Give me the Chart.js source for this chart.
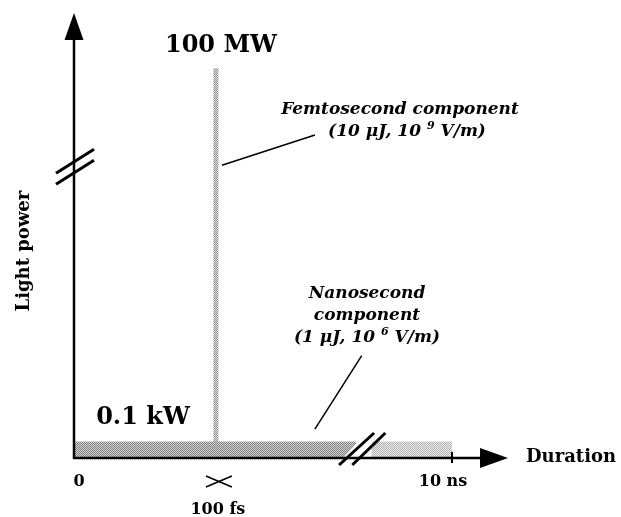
<!DOCTYPE html>
<html>
<head>
<meta charset="utf-8">
<script src="https://cdn.jsdelivr.net/npm/chart.js@4.4.1/dist/chart.umd.min.js"></script>
<style>
    html, body { margin: 0; padding: 0; background: #ffffff; }
    #wrap { width: 621px; height: 517px; position: relative; }
</style>
</head>
<body>
<div id="wrap"><canvas id="pulseChart"></canvas></div>
<script>
// 脈衝示意圖：橫軸為持續時間 (示意位置)，縱軸為光功率 (示意高度)

// 橫軸刻度 (示意位置，0 為原點，10 為箭頭尖端)
const durationTicks = ['0', '100 fs', '10 ns'];
const durationPos = [0, 3.27, 8.71];
const durationMax = 10;

// 縱軸 (示意高度，100 為箭頭尖端)
const powerLabels = ['0.1 kW', '100 MW'];
const powerLevels = [3.7, 87.6];
const powerMax = 100;

// 奈秒成分被截斷的區段 (示意位置)
const nanoBreak = [6.5, 6.85];

// 各成分說明文字
const femtoLabel = ['Femtosecond component', '(10 \u03bcJ, 10 ', '9', ' V/m)'];
const nanoLabel = ['Nanosecond', 'component', '(1 \u03bcJ, 10 ', '6', ' V/m)'];

/**
 * Builds a small checkerboard pattern to imitate the stippled grey fill.
 */
function makeStipple(dark, light) {
    const c = document.createElement('canvas');
    c.width = 2;
    c.height = 2;
    const g = c.getContext('2d');
    g.fillStyle = light;
    g.fillRect(0, 0, 2, 2);
    g.fillStyle = dark;
    g.fillRect(0, 0, 1, 1);
    g.fillRect(1, 1, 1, 1);
    return g.createPattern(c, 'repeat');
}

const darkStipple = makeStipple('#808080', '#d4d4d4');
const lightStipple = makeStipple('#b0b0b0', '#eeeeee');
const femtoStipple = makeStipple('#969696', '#dcdcdc');

const serif = '"DejaVu Serif", "Liberation Serif", serif';

/**
 * Draws a line of text with one superscript part, centred on cx.
 */
function drawSupLine(ctx, before, sup, after, cx, y, size) {
    const mainFont = 'italic bold ' + size + 'px ' + serif;
    const supFont = 'italic bold ' + Math.round(size * 0.62) + 'px ' + serif;
    ctx.font = mainFont;
    const w1 = ctx.measureText(before).width;
    const w3 = ctx.measureText(after).width;
    ctx.font = supFont;
    const w2 = ctx.measureText(sup).width;
    let x = cx - (w1 + w2 + w3) / 2;
    ctx.save();
    ctx.textAlign = 'left';
    ctx.font = mainFont;
    ctx.fillText(before, x, y);
    x += w1;
    ctx.font = supFont;
    ctx.fillText(sup, x, y - size * 0.42);
    x += w2;
    ctx.font = mainFont;
    ctx.fillText(after, x, y);
    ctx.restore();
}

function line(ctx, x1, y1, x2, y2, w) {
    ctx.lineWidth = w;
    ctx.beginPath();
    ctx.moveTo(x1, y1);
    ctx.lineTo(x2, y2);
    ctx.stroke();
}

// 軸線、箭頭、截斷符號與文字
const schematicPlugin = {
    id: 'schematic',
    afterDatasetsDraw(chart) {
        const ctx = chart.ctx;
        const xs = chart.scales.x;
        const ys = chart.scales.y;
        const x0 = xs.getPixelForValue(0);
        const y0 = ys.getPixelForValue(0);
        const xTip = xs.getPixelForValue(durationMax);
        const yTip = ys.getPixelForValue(powerMax);
        const nanoTop = ys.getPixelForValue(powerLevels[0]);
        const femtoX = xs.getPixelForValue(durationPos[1]);
        const nsX = xs.getPixelForValue(durationPos[2]);
        const b1 = xs.getPixelForValue(nanoBreak[0]);
        const b2 = xs.getPixelForValue(nanoBreak[1]);

        ctx.save();
        ctx.strokeStyle = '#000';
        ctx.fillStyle = '#000';
        ctx.lineCap = 'butt';

        // 截斷處留白
        ctx.fillStyle = '#fff';
        ctx.beginPath();
        ctx.moveTo(b1 - 12, y0 - 1);
        ctx.lineTo(b1 + 2, nanoTop);
        ctx.lineTo(b2 + 2, nanoTop);
        ctx.lineTo(b2 - 12, y0 - 1);
        ctx.closePath();
        ctx.fill();
        ctx.fillStyle = '#000';

        // 縱軸與箭頭
        line(ctx, x0, y0 + 1, x0, yTip + 26, 2.5);
        ctx.beginPath();
        ctx.moveTo(x0, yTip);
        ctx.lineTo(x0 - 9.5, yTip + 27);
        ctx.lineTo(x0 + 9.5, yTip + 27);
        ctx.closePath();
        ctx.fill();

        // 橫軸與箭頭
        line(ctx, x0 - 1, y0, xTip - 27, y0, 2.5);
        ctx.beginPath();
        ctx.moveTo(xTip, y0);
        ctx.lineTo(xTip - 28, y0 - 10);
        ctx.lineTo(xTip - 28, y0 + 10);
        ctx.closePath();
        ctx.fill();

        // 10 ns 刻度
        line(ctx, nsX, y0 - 6, nsX, y0 + 5, 2);

        // 100 fs 的叉號
        line(ctx, femtoX - 10, y0 + 18, femtoX + 16, y0 + 29, 1.5);
        line(ctx, femtoX - 10, y0 + 29, femtoX + 16, y0 + 18, 1.5);

        // 橫軸截斷符號
        line(ctx, b1 - 17, y0 + 7, b1 + 18, y0 - 25, 3);
        line(ctx, b2 - 19, y0 + 7, b2 + 14, y0 - 25, 3);

        // 縱軸截斷符號
        const yb = ys.getPixelForValue(66);
        line(ctx, x0 - 18, yb + 9, x0 + 20, yb - 15, 3);
        line(ctx, x0 - 18, yb + 20, x0 + 20, yb - 4, 3);

        // 引線
        line(ctx, femtoX + 6, ys.getPixelForValue(65.8), femtoX + 99, ys.getPixelForValue(72.6), 1.5);
        line(ctx, xs.getPixelForValue(5.55), ys.getPixelForValue(6.5), xs.getPixelForValue(6.63), ys.getPixelForValue(23), 1.5);

        // 功率標示
        ctx.textBaseline = 'alphabetic';
        ctx.textAlign = 'center';
        ctx.font = 'bold 24px ' + serif;
        ctx.fillText(powerLabels[1], femtoX + 5, ys.getPixelForValue(powerLevels[1]) - 16);
        ctx.fillText(powerLabels[0], x0 + 69, nanoTop - 18);

        // 刻度標籤
        ctx.font = 'bold 16px ' + serif;
        ctx.fillText(durationTicks[0], x0 + 5, y0 + 28);
        ctx.fillText(durationTicks[2], nsX - 9, y0 + 28);
        ctx.fillText(durationTicks[1], femtoX + 2, y0 + 56);

        // 軸標題
        ctx.font = 'bold 18px ' + serif;
        ctx.textAlign = 'left';
        ctx.fillText('Duration', xTip + 18, y0 + 4);
        ctx.save();
        ctx.translate(x0 - 50, ys.getPixelForValue(46.5));
        ctx.rotate(-Math.PI / 2);
        ctx.textAlign = 'center';
        ctx.textBaseline = 'middle';
        ctx.fillText('Light power', 0, 0);
        ctx.restore();

        // 成分說明
        ctx.textBaseline = 'alphabetic';
        ctx.textAlign = 'center';
        ctx.font = 'italic bold 17px ' + serif;
        ctx.fillText(femtoLabel[0], 400, 114);
        drawSupLine(ctx, femtoLabel[1], femtoLabel[2], femtoLabel[3], 407, 136, 17);
        ctx.textAlign = 'center';
        ctx.font = 'italic bold 17px ' + serif;
        ctx.fillText(nanoLabel[0], 367, 298);
        ctx.fillText(nanoLabel[1], 367, 320);
        drawSupLine(ctx, nanoLabel[2], nanoLabel[3], nanoLabel[4], 367, 342, 17);

        ctx.restore();
    }
};

/**
 * Initializes the Chart.js instance for the pulse schematic.
 */
function initPulseChart(canvasElement) {
    const ctx = canvasElement.getContext('2d');
    return new Chart(ctx, {
        type: 'scatter',
        data: {
            datasets: [
                {
                    label: 'Nanosecond (before break)',
                    data: [{ x: durationPos[0], y: powerLevels[0] }, { x: nanoBreak[0], y: powerLevels[0] }],
                    showLine: true,
                    fill: 'origin',
                    backgroundColor: darkStipple,
                    borderWidth: 0,
                    pointRadius: 0
                },
                {
                    label: 'Nanosecond (after break)',
                    data: [{ x: nanoBreak[1], y: powerLevels[0] }, { x: durationPos[2], y: powerLevels[0] }],
                    showLine: true,
                    fill: 'origin',
                    backgroundColor: lightStipple,
                    borderWidth: 0,
                    pointRadius: 0
                },
                {
                    label: 'Femtosecond',
                    data: [{ x: durationPos[1], y: 0 }, { x: durationPos[1], y: powerLevels[1] }],
                    showLine: true,
                    fill: false,
                    borderColor: femtoStipple,
                    borderWidth: 5,
                    borderCapStyle: 'butt',
                    pointRadius: 0
                }
            ]
        },
        options: {
            responsive: true,
            maintainAspectRatio: false,
            animation: false,
            devicePixelRatio: 1,
            layout: {
                padding: { left: 74, right: 113, top: 13, bottom: 59 }
            },
            scales: {
                x: { type: 'linear', min: 0, max: durationMax, display: false },
                y: { type: 'linear', min: 0, max: powerMax, display: false }
            },
            plugins: {
                legend: { display: false },
                tooltip: { enabled: false }
            }
        },
        plugins: [schematicPlugin]
    });
}

initPulseChart(document.getElementById('pulseChart'));
</script>
</body>
</html>
